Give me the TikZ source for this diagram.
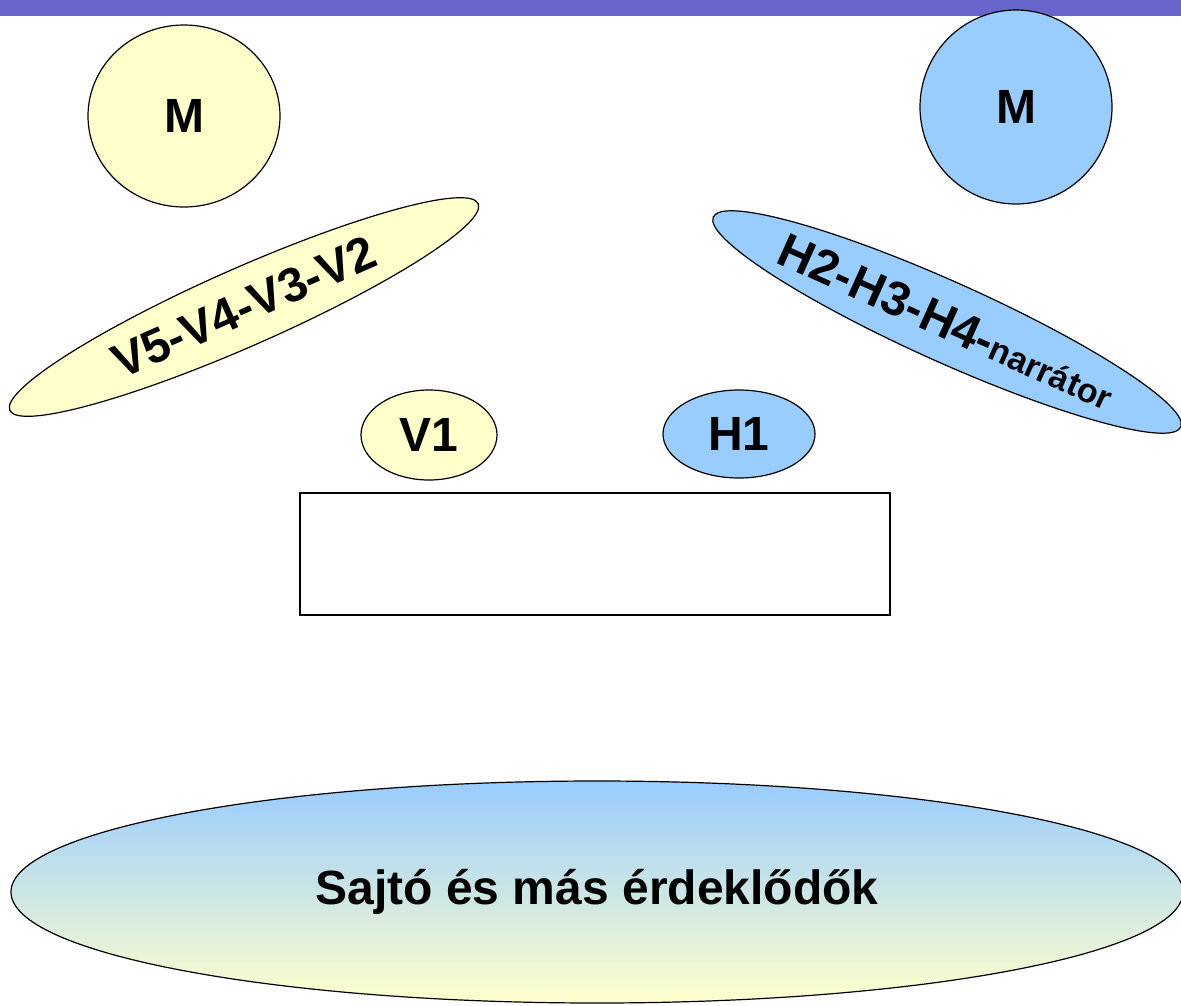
\documentclass[tikz,border=0pt]{standalone}
\usepackage{fontspec}
\setmainfont{Liberation Sans}
\usepackage{tikz}
\usetikzlibrary{shapes}

\definecolor{paleyellow}{HTML}{FFFFCC}
\definecolor{paleblue}{HTML}{99CCFF}
\definecolor{barblue}{HTML}{6666CC}

\tikzset{
	blob/.style={ellipse, draw=black, line width=1.2pt, inner sep=0pt,
		font=\bfseries\fontsize{48}{56}\selectfont},
	yblob/.style={blob, fill=paleyellow},
	bblob/.style={blob, fill=paleblue}
}

\begin{document}
\begin{tikzpicture}[x=1pt, y=-1pt]
		\useasboundingbox (0,0) rectangle (1181,1005);
		\fill[barblue] (0,0) rectangle (1181,16);

		\draw (184,116) node[yblob, minimum width=192, minimum height=182] (mv)    {M};
		\draw (1016,107) node[bblob, minimum width=192, minimum height=194] (mh)    {M};

		\draw (244,307) node[yblob, rotate=23.8, minimum width=512, minimum height=78] (vrest)    {V5-V4-V3-V2};
		\draw (947,322) node[bblob, rotate=-24.2, minimum width=512, minimum height=80] (hrest)    {H2-H3-H4-{\fontsize{34}{38}\selectfont narrátor}};

		\draw (429,435) node[yblob, minimum width=136, minimum height=90] (v1)    {V1};
		\draw (739,434) node[bblob, minimum width=152, minimum height=88] (h1)    {H1};

		\draw (595,554) node[draw, line width=1.2pt, minimum width=590, minimum height=122] (table)    {};

		\draw (597,892) node[blob, top color=paleblue, bottom color=paleyellow, minimum width=1172, minimum height=222] (press)    {Sajtó és más érdeklődők};
\end{tikzpicture}
\end{document}
